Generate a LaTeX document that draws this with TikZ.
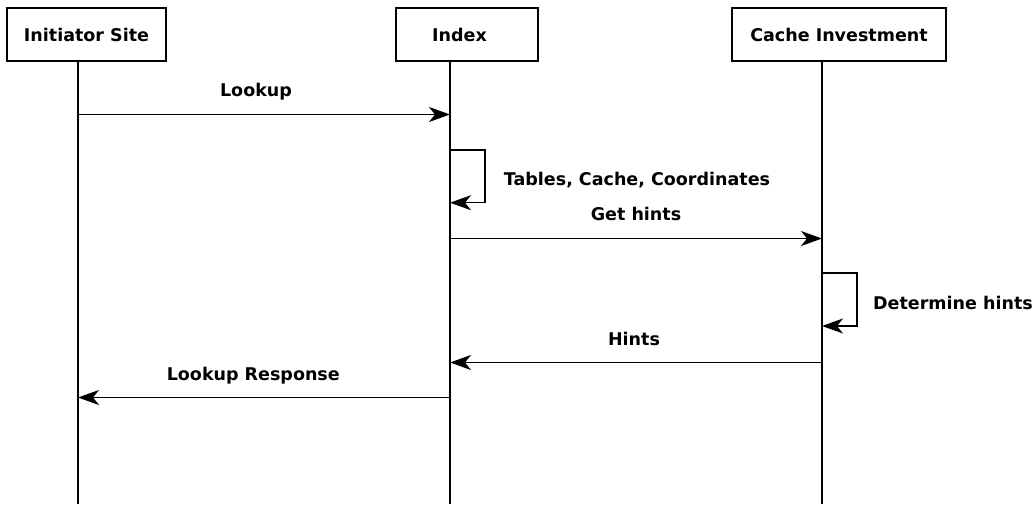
\documentclass[tikz,border=0pt]{standalone}
\usepackage{fontspec}
\setmainfont{DejaVu Sans}
\usetikzlibrary{arrows.meta}
\begin{document}
\begin{tikzpicture}[x=1pt,y=-1pt,
  font=\fontsize{17.5pt}{21pt}\selectfont\bfseries,
  actor/.style={draw,line width=2pt,minimum height=53pt,inner sep=0pt,anchor=center},
  lifeline/.style={line width=1.5pt},
  msg/.style={line width=1.5pt,-{Stealth[length=21pt,width=15pt,inset=6pt]}},
  msglabel/.style={anchor=base,inner sep=0pt}]
\useasboundingbox (0,0) rectangle (1035,504);

% participants
\node[actor,minimum width=159pt] (init) at (86.5,34.5) {Initiator Site};
\node[actor,minimum width=142.6pt] (index) at (467,34.5) {Index\hspace*{15pt}};
\node[actor,minimum width=214pt] (cache) at (839,34.5) {Cache Investment};

% lifelines
\coordinate (initEnd) at (78,504);
\coordinate (indexEnd) at (450,504);
\coordinate (cacheEnd) at (822,504);
\draw[lifeline] (init.south -| initEnd) -- (initEnd);
\draw[lifeline] (index.south -| indexEnd) -- (indexEnd);
\draw[lifeline] (cache.south -| cacheEnd) -- (cacheEnd);

% message anchor points on the lifelines
\coordinate (i1) at (78,114.5);   \coordinate (x1) at (450,114.5);
\coordinate (x2) at (450,150);    \coordinate (x3) at (450,202.7);
\coordinate (x4) at (450,238.5);  \coordinate (c4) at (822,238.5);
\coordinate (c5) at (822,273);    \coordinate (c6) at (822,326);
\coordinate (c7) at (822,362.5);  \coordinate (x7) at (450,362.5);
\coordinate (x8) at (450,397.5);  \coordinate (i8) at (78,397.5);

% messages
\draw[msg] (i1) -- (x1);
\node[msglabel] (lLookup) at (256,96.7) {Lookup};

\draw[msg] (x2) -- ++(35,0) |- (x3);
\node[msglabel] (lTables) at (637,185) {Tables, Cache, Coordinates};

\draw[msg] (x4) -- (c4);
\node[msglabel] (lGet) at (636,220.7) {Get hints};

\draw[msg] (c5) -- ++(35,0) |- (c6);
\node[msglabel] (lDet) at (953,309.3) {Determine hints};

\draw[msg] (c7) -- (x7);
\node[msglabel] (lHints) at (634,345.7) {Hints};

\draw[msg] (x8) -- (i8);
\node[msglabel] (lResp) at (253.3,380.7) {Lookup Response};
\end{tikzpicture}
\end{document}
